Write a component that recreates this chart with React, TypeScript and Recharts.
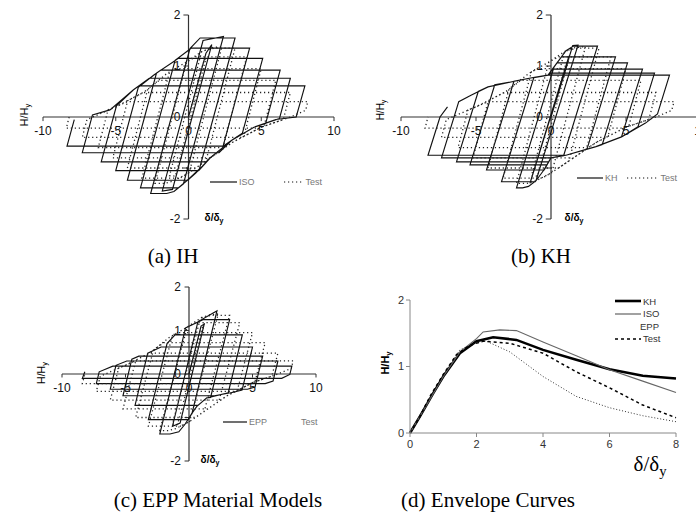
import React from 'react';
import { LineChart, Line, XAxis, YAxis, ReferenceLine, ReferenceDot, Legend } from 'recharts';

type Pt = [number, number];

// hysteresis loops (delta/delta_y, H/H_y)
const isoPath: Pt[] = [
  [0, 0], [1.2, 1.25], [1.6, 1.42],
  [-1.1, -1.42], [-1.8, -1.45],
  [1.0, 1.5], [2.4, 1.58],
  [-0.35, -1.31], [-1.0, -1.46], [-1.5, -1.5], [-2.6, -1.5],
  [0.1, 1.34], [0.8, 1.55], [3.2, 1.55],
  [0.75, -1.02], [0, -1.22], [-0.7, -1.39], [-3.3, -1.39],
  [-0.92, 1.11], [0, 1.31], [0.2, 1.35], [4.2, 1.35],
  [2.35, -0.6], [1.5, -0.8], [0.5, -1.1], [-0.05, -1.24], [-4.2, -1.24],
  [-2.2, 0.86], [-1.06, 1.08], [-0.7, 1.15], [5.1, 1.15],
  [3.7, -0.32], [3, -0.45], [1.5, -0.8], [0.7, -1.05], [-5.0, -1.05],
  [-3.45, 0.58], [-2.4, 0.82], [-1.9, 0.92], [6.3, 0.92],
  [5.3, -0.13], [4.5, -0.2], [3, -0.45], [1.5, -0.8], [1.2, -0.88], [-6.0, -0.88],
  [-4.95, 0.22], [-3.8, 0.53], [-2.7, 0.76], [7.0, 0.76],
  [6.25, -0.03], [4.5, -0.2], [3, -0.45], [2.1, -0.7], [-7.3, -0.7],
  [-6.6, 0.04], [-5.4, 0.14], [-3.8, 0.53], [-3.4, 0.61], [8.0, 0.61],
  [7.4, 0.0], [6, -0.05], [4.5, -0.2], [3, -0.45], [2.4, -0.57], [-8.35, -0.57],
  [-7.85, -0.05],
];

const khPath: Pt[] = [
  [0, 0], [1.05, 1.0], [1.2, 1.2],
  [-1.3, -1.2], [-1.4, -1.3],
  [1.45, 1.4], [1.8, 1.41],
  [-1.0, -1.25], [-1.5, -1.36], [-1.9, -1.39], [-2.3, -1.39],
  [0.2, 0.98], [1.0, 1.3], [1.5, 1.39], [3.1, 1.39],
  [0.84, -0.76], [0, -0.8], [-0.5, -1.05], [-1.05, -1.27], [-3.3, -1.27],
  [-1.15, 0.77], [-0.2, 0.82], [0.5, 1.1], [0.7, 1.18], [4.3, 1.18],
  [2.4, -0.63], [1, -0.75], [0, -0.8], [-0.45, -1.04], [-4.3, -1.04],
  [-2.47, 0.7], [-1.1, 0.78], [-0.2, 0.82], [0.4, 1.06], [5.1, 1.06],
  [3.42, -0.54], [3, -0.58], [1, -0.75], [0, -0.8], [-0.28, -0.94], [-5.4, -0.94],
  [-3.75, 0.63], [-2.6, 0.69], [-1.1, 0.78], [-0.2, 0.82], [0.1, 0.94], [6.1, 0.94],
  [4.7, -0.39], [3, -0.58], [1, -0.75], [0, -0.8], [-0.15, -0.88], [-6.3, -0.88],
  [-4.85, 0.5], [-4.2, 0.59], [-2.6, 0.69], [-1.1, 0.78], [-0.2, 0.82], [0, 0.86], [6.9, 0.86],
  [5.8, -0.19], [4.7, -0.39], [3, -0.58], [1, -0.75], [0, -0.8], [-7.3, -0.8],
  [-6.15, 0.3], [-5.3, 0.43], [-4.2, 0.59], [-2.6, 0.69], [-1.1, 0.78], [-0.2, 0.82], [7.9, 0.82],
  [7.1, 0.06], [6.3, -0.12], [4.7, -0.39], [3, -0.58], [1, -0.75], [-8.2, -0.75],
  [-7.4, 0.0], [-6.9, 0.2],
];

const eppPath: Pt[] = [
  [0, 0], [0.95, 1.1], [1.2, 1.15],
  [-0.7, -1.13], [-1.3, -1.2],
  [0.7, 1.2], [1.9, 1.4], [2.2, 1.45],
  [0.24, -0.9], [-0.3, -1.15], [-0.8, -1.33], [-1.5, -1.38], [-2.3, -1.38],
  [-0.27, 1.06], [0, 1.1], [1.1, 1.25], [3.2, 1.25],
  [1.7, -0.54], [1.4, -0.55], [0.6, -0.75], [0.2, -0.92], [-0.05, -1.05], [-3.2, -1.05],
  [-1.73, 0.7], [-1.1, 0.9], [4.2, 0.9],
  [3.09, -0.43], [1.4, -0.55], [0.7, -0.72], [-4.25, -0.72],
  [-3.25, 0.48], [-2.2, 0.62], [5.0, 0.62],
  [4.18, -0.37], [3.5, -0.42], [2.0, -0.5], [-5.2, -0.5],
  [-4.5, 0.34], [-3.95, 0.41], [5.8, 0.41],
  [5.2, -0.3], [4.6, -0.35], [-6.2, -0.35],
  [-5.75, 0.2], [-4.9, 0.3], [7.0, 0.3],
  [6.62, -0.16], [6.0, -0.22], [-7.3, -0.22],
  [-7.07, 0.05], [-6.0, 0.18], [8.1, 0.18],
  [7.94, -0.01], [7.3, -0.1], [-8.4, -0.1],
  [-8.2, 0.05],
];

const testPath: Pt[] = [
  [0, 0], [1.0, 1.05], [1.2, 1.15],
  [-0.9, -1.16], [-1.3, -1.15],
  [0.9, 1.28], [1.6, 1.36], [2.3, 1.38],
  [0.05, -1.09], [-1, -1.25], [-1.6, -1.3], [-2.3, -1.3],
  [-0.14, 1.08], [1, 1.3], [1.8, 1.35], [3.2, 1.35],
  [1.2, -0.86], [0, -1.1], [-0.6, -1.2], [-3.2, -1.2],
  [-1.3, 0.89], [0, 1.1], [0.5, 1.18], [4.0, 1.18],
  [2.35, -0.63], [1.5, -0.8], [0.5, -1.0], [-4.2, -1.0],
  [-2.8, 0.55], [-1.5, 0.85], [-0.9, 0.95], [5.0, 0.95],
  [3.8, -0.38], [3, -0.5], [2, -0.7], [1.5, -0.8], [-5.2, -0.8],
  [-4.18, 0.32], [-3, 0.5], [-2.0, 0.72], [6.0, 0.72],
  [5.2, -0.17], [5, -0.2], [3, -0.5], [2.5, -0.6], [-6.2, -0.6],
  [-5.53, 0.14], [-5, 0.2], [-3.1, 0.48], [7.0, 0.48],
  [6.52, -0.05], [5, -0.2], [4, -0.35], [3.6, -0.4], [-7.3, -0.4],
  [-6.98, -0.05], [-5, 0.2], [-4.2, 0.3], [8.2, 0.3],
  [8.05, 0.13], [7, 0], [5, -0.2], [4.8, -0.22], [-8.4, -0.22],
  [-8.2, 0.0],
];

// envelope curves (d)
const envKH: Pt[] = [[0, 0], [0.3, 0.25], [0.7, 0.6], [1.0, 0.85], [1.5, 1.2], [2.0, 1.38], [2.5, 1.44], [3.2, 1.4], [4.0, 1.25], [5.0, 1.1], [6.0, 0.96], [7.0, 0.86], [8.0, 0.82]];
const envISO: Pt[] = [[0, 0], [0.5, 0.42], [1.0, 0.85], [1.5, 1.22], [2.0, 1.42], [2.2, 1.52], [2.7, 1.55], [3.2, 1.54], [4.0, 1.37], [5.0, 1.16], [6.0, 0.95], [7.0, 0.78], [8.0, 0.61]];
const envEPP: Pt[] = [[0, 0], [0.5, 0.45], [1.0, 0.88], [1.5, 1.25], [2.0, 1.36], [2.3, 1.38], [3.0, 1.22], [4.0, 0.85], [5.0, 0.55], [6.0, 0.38], [7.0, 0.26], [8.0, 0.17]];
const envTest: Pt[] = [[0, 0], [0.3, 0.25], [0.6, 0.55], [1.0, 0.88], [1.4, 1.18], [1.8, 1.32], [2.2, 1.38], [3.0, 1.35], [4.0, 1.2], [5.0, 0.92], [6.0, 0.68], [7.0, 0.42], [8.0, 0.23]];

const hystXTicks = [-10, -5, 0, 5, 10];
const hystYTicks = [2, 1, 0, -2];
const hystYTickMarks = [2, 1, 0, -1, -2];
const envXTicks = [0, 2, 4, 6, 8];
const envYTicks = [0, 1, 2];
const envOrder = ['KH', 'ISO', 'EPP', 'Test'];

const toRows = (p: Pt[]) => p.map(([x, y]) => ({ x, y }));

const SANS = '"Liberation Sans", Arial, sans-serif';
const SERIF = '"Liberation Serif", "Times New Roman", serif';
const INK = '#111';

type LegendCfg = { w: number; gap: number; show: boolean; dash?: string };

// legend order is fixed by name, recharts sorts the payload itself
const hystLegend = (order: string[], cfg: LegendCfg[]) => (props: any) => {
  const payload = props.payload || [];
  const items = order.map((n) => payload.find((e: any) => e.value === n)).filter(Boolean);
  return (
    <div style={{ display: 'flex', alignItems: 'center', fontSize: 9, color: '#777', fontFamily: SANS, whiteSpace: 'nowrap' }}>
      {items.map((e: any, i: number) => {
        const c = cfg[i];
        return (
          <span key={e.value} style={{ display: 'flex', alignItems: 'center', marginRight: c.gap }}>
            <svg width={c.w} height={6}>
              {c.show && <line x1={0} y1={3} x2={c.w} y2={3} stroke={INK} strokeWidth={1.2} strokeDasharray={c.dash} />}
            </svg>
            <span style={{ marginLeft: 2 }}>{e.value}</span>
          </span>
        );
      })}
    </div>
  );
};

const Sub = ({ children }: { children: React.ReactNode }) => (
  <span style={{ fontSize: '0.7em', verticalAlign: '-0.3em' }}>{children}</span>
);

const Abs = ({ x, y, style, children, rotate }: any) => (
  <div
    style={{
      position: 'absolute', left: x, top: y, whiteSpace: 'nowrap',
      transform: `translate(-50%, -50%)${rotate ? ' rotate(-90deg)' : ''}`,
      ...style,
    }}
  >
    {children}
  </div>
);

interface HystProps {
  left: number;
  top: number;
  width: number;
  height: number;
  margin: { top: number; right: number; bottom: number; left: number };
  name: string;
  path: Pt[];
  legendAt: { left: number; top: number };
  legendCfg: LegendCfg[];
}

const HystPanel: React.FC<HystProps> = ({ left, top, width, height, margin, name, path, legendAt, legendCfg }) => (
  <div style={{ position: 'absolute', left, top }}>
    <LineChart width={width} height={height} margin={margin}>
      <XAxis type="number" dataKey="x" domain={[-10, 10]} hide />
      <YAxis type="number" domain={[-2, 2]} hide />
      <ReferenceLine y={0} stroke="#333" strokeWidth={1.2} />
      <ReferenceLine x={0} stroke="#333" strokeWidth={1.2} />
      {hystYTickMarks.map((t) => (
        <ReferenceLine key={'ym' + t} segment={[{ x: -0.35, y: t }, { x: 0, y: t }]} stroke="#333" />
      ))}
      {hystXTicks.map((t) => (
        <ReferenceLine key={'xm' + t} segment={[{ x: t, y: 0 }, { x: t, y: -0.08 }]} stroke="#333" />
      ))}
      {hystXTicks.map((t) => (
        <ReferenceDot key={'xl' + t} x={t} y={0} r={0} stroke="none"
          label={{ value: String(t), position: 'bottom', offset: 9, fontSize: 12, fill: INK }} />
      ))}
      {hystYTicks.map((t) => (
        <ReferenceDot key={'yl' + t} x={0} y={t} r={0} stroke="none"
          label={{ value: String(t), position: 'left', offset: 8, fontSize: 12, fill: INK }} />
      ))}
      <Line data={toRows(path)} dataKey="y" name={name} stroke={INK} strokeWidth={1.15}
        dot={false} isAnimationActive={false} />
      <Line data={toRows(testPath)} dataKey="y" name="Test" stroke="#222" strokeWidth={1.3}
        strokeDasharray="1.2 2.8" dot={false} isAnimationActive={false} />
      <Legend layout="horizontal" verticalAlign="middle" align="center"
        content={hystLegend([name, 'Test'], legendCfg)}
        wrapperStyle={{ left: legendAt.left, top: legendAt.top, width: 160, height: 12 }} />
    </LineChart>
  </div>
);

const envStyles: Record<string, { w: number; dash?: string; color: string; show: boolean }> = {
  KH: { w: 2.6, color: '#000', show: true },
  ISO: { w: 1.1, color: '#555', show: true },
  EPP: { w: 1, color: '#999', show: false },
  Test: { w: 1.3, color: '#000', show: true, dash: '3 3' },
};

const envLegend = (props: any) => {
  const payload = props.payload || [];
  const items = envOrder.map((n) => payload.find((e: any) => e.value === n)).filter(Boolean);
  return (
    <div style={{ fontSize: 9.5, color: '#333', fontFamily: SANS }}>
      {items.map((e: any) => {
        const s = envStyles[e.value];
        return (
          <div key={e.value} style={{ display: 'flex', alignItems: 'center', height: 12.5 }}>
            <svg width={26} height={6}>
              {s.show && <line x1={0} y1={3} x2={26} y2={3} stroke={s.color} strokeWidth={s.w} strokeDasharray={s.dash} />}
            </svg>
            <span style={{ marginLeft: e.value === 'EPP' ? -1 : 2 }}>{e.value}</span>
          </div>
        );
      })}
    </div>
  );
};

const EnvPanel = () => (
  <div style={{ position: 'absolute', left: 348, top: 240 }}>
    <LineChart width={348} height={230} margin={{ top: 60, right: 20, left: 32, bottom: 17 }}>
      <XAxis type="number" dataKey="x" domain={[0, 8]} ticks={envXTicks} height={20}
        tickSize={4} tickMargin={3} stroke="#888" tick={{ fill: '#333', fontSize: 11 }} />
      <YAxis type="number" domain={[0, 2]} ticks={envYTicks} width={30}
        tickSize={4} tickMargin={2} stroke="#888" tick={{ fill: '#333', fontSize: 11 }} />
      <Line data={toRows(envKH)} dataKey="y" name="KH" stroke="#000" strokeWidth={2.6}
        dot={false} isAnimationActive={false} />
      <Line data={toRows(envISO)} dataKey="y" name="ISO" stroke="#666" strokeWidth={1.1}
        dot={false} isAnimationActive={false} />
      <Line data={toRows(envEPP)} dataKey="y" name="EPP" stroke="#333" strokeWidth={1}
        strokeDasharray="1 2" dot={false} isAnimationActive={false} />
      <Line data={toRows(envTest)} dataKey="y" name="Test" stroke="#000" strokeWidth={1.5}
        strokeDasharray="3 3" dot={false} isAnimationActive={false} />
      <Legend layout="horizontal" verticalAlign="middle" align="center" content={envLegend}
        wrapperStyle={{ left: 267, top: 55, width: 70, height: 50 }} />
    </LineChart>
  </div>
);

const hLabel = (
  <span>H/H<Sub>y</Sub></span>
);
const dLabel = (
  <span>δ/δ<Sub>y</Sub></span>
);

export default function App() {
  return (
    <div style={{ position: 'fixed', left: 0, top: 0, width: 696, height: 522, overflow: 'hidden', background: '#fff', fontFamily: SANS }}>
      <HystPanel left={0} top={0} width={348} height={240}
        margin={{ top: 15, right: 14, bottom: 21, left: 43 }}
        name="ISO" path={isoPath}
        legendAt={{ left: 210, top: 177 }}
        legendCfg={[{ w: 27, gap: 29, show: true }, { w: 20, gap: 0, show: true, dash: '1.2 2.8' }]} />
      <HystPanel left={348} top={0} width={370} height={240}
        margin={{ top: 15, right: 17, bottom: 21, left: 53 }}
        name="KH" path={khPath}
        legendAt={{ left: 229, top: 173 }}
        legendCfg={[{ w: 26, gap: 9, show: true }, { w: 32, gap: 0, show: true, dash: '1.2 2.8' }]} />
      <HystPanel left={0} top={240} width={348} height={240}
        margin={{ top: 47, right: 32, bottom: 19, left: 62 }}
        name="EPP" path={eppPath}
        legendAt={{ left: 223, top: 177 }}
        legendCfg={[{ w: 24, gap: 32, show: true }, { w: 0, gap: 0, show: false }]} />
      <EnvPanel />

      <Abs x={25} y={115} rotate style={{ fontSize: 11 }}>{hLabel}</Abs>
      <Abs x={381} y={110} rotate style={{ fontSize: 10 }}>{hLabel}</Abs>
      <Abs x={42} y={373} rotate style={{ fontSize: 10.5 }}>{hLabel}</Abs>
      <Abs x={386} y={363} rotate style={{ fontSize: 11, fontWeight: 'bold' }}>{hLabel}</Abs>

      <Abs x={214} y={218} style={{ fontSize: 10, fontWeight: 'bold' }}>{dLabel}</Abs>
      <Abs x={574} y={218} style={{ fontSize: 10, fontWeight: 'bold' }}>{dLabel}</Abs>
      <Abs x={210} y={460} style={{ fontSize: 10, fontWeight: 'bold' }}>{dLabel}</Abs>
      <Abs x={650} y={466} style={{ fontSize: 21, fontFamily: SERIF }}>{dLabel}</Abs>

      <Abs x={173} y={256} style={{ fontSize: 21, fontFamily: SERIF }}>(a) IH</Abs>
      <Abs x={541} y={256} style={{ fontSize: 21, fontFamily: SERIF }}>(b) KH</Abs>
      <Abs x={218} y={500} style={{ fontSize: 21, fontFamily: SERIF }}>(c) EPP Material Models</Abs>
      <Abs x={488} y={500} style={{ fontSize: 21, fontFamily: SERIF }}>(d) Envelope Curves</Abs>
    </div>
  );
}
